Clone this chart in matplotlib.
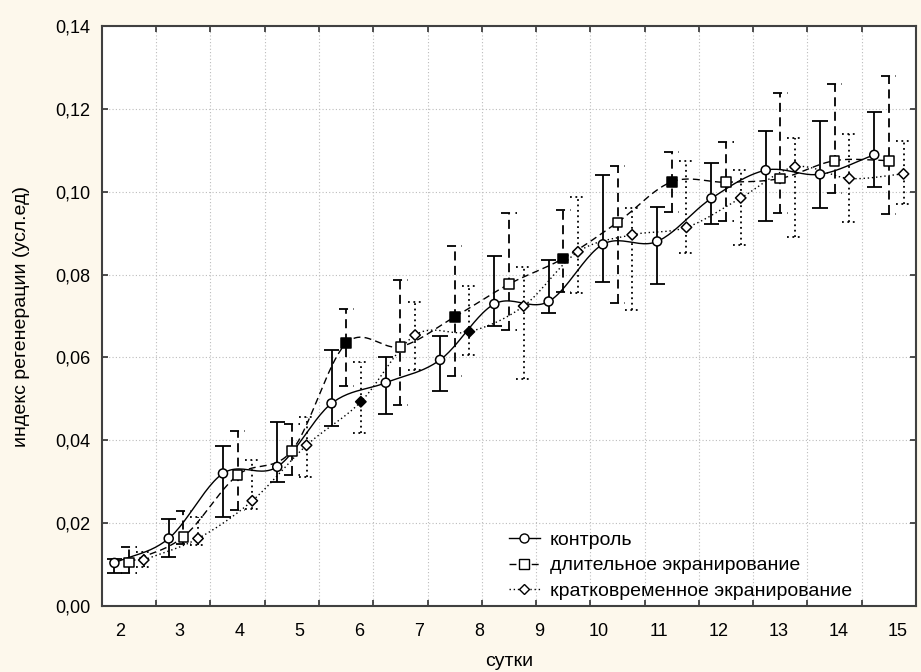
import numpy as np
import matplotlib
matplotlib.use('agg')
import matplotlib.pyplot as plt
from matplotlib.lines import Line2D

# days shown on the x axis
day_labels = ["2", "3", "4", "5", "6", "7", "8", "9", "10", "11", "12", "13", "14", "15"]

# контроль
ctrl_mean = [0.0104, 0.0163, 0.0320, 0.0336, 0.0489, 0.0539, 0.0594, 0.0729,
             0.0735, 0.0873, 0.0880, 0.0984, 0.1052, 0.1042, 0.1089]
ctrl_hi = [0.0113, 0.0209, 0.0387, 0.0443, 0.0618, 0.0602, 0.0652, 0.0845,
           0.0835, 0.1040, 0.0964, 0.1070, 0.1147, 0.1171, 0.1192]
ctrl_lo = [0.0080, 0.0118, 0.0216, 0.0300, 0.0435, 0.0463, 0.0519, 0.0677,
           0.0707, 0.0782, 0.0777, 0.0922, 0.0929, 0.0961, 0.1011]

# длительное экранирование
long_mean = [0.0105, 0.0167, 0.0316, 0.0375, 0.0634, 0.0626, 0.0698, 0.0777,
             0.0839, 0.0926, 0.1024, 0.1023, 0.1032, 0.1075, 0.1075]
long_hi = [0.0143, 0.0230, 0.0423, 0.0439, 0.0716, 0.0787, 0.0869, 0.0948,
           0.0956, 0.1061, 0.1097, 0.1121, 0.1238, 0.1260, 0.1280]
long_lo = [0.0080, 0.0150, 0.0232, 0.0316, 0.0531, 0.0485, 0.0554, 0.0666,
           0.0759, 0.0731, 0.0950, 0.0930, 0.0949, 0.0996, 0.0946]
long_filled = [0, 0, 0, 0, 1, 0, 1, 0, 1, 0, 1, 0, 0, 0, 0]

# кратковременное экранирование
short_mean = [0.0111, 0.0163, 0.0254, 0.0388, 0.0493, 0.0654, 0.0662, 0.0724,
              0.0855, 0.0896, 0.0914, 0.0985, 0.1060, 0.1032, 0.1043]
short_hi = [0.0131, 0.0216, 0.0352, 0.0457, 0.0590, 0.0735, 0.0773, 0.0819,
            0.0988, 0.0960, 0.1073, 0.1052, 0.1129, 0.1139, 0.1123]
short_lo = [0.0095, 0.0147, 0.0233, 0.0312, 0.0417, 0.0570, 0.0606, 0.0549,
            0.0755, 0.0715, 0.0851, 0.0871, 0.0891, 0.0928, 0.0970]
short_filled = [0, 0, 0, 0, 1, 0, 1, 0, 0, 0, 0, 0, 0, 0, 0]

labels = ["контроль", "длительное экранирование", "кратковременное экранирование"]


def smooth(x, y, n=24):
    # catmull-rom through the means
    x = np.asarray(x, float)
    y = np.asarray(y, float)
    yp = np.concatenate([[2 * y[0] - y[1]], y, [2 * y[-1] - y[-2]]])
    t = np.linspace(0, 1, n, endpoint=False)
    xs, ys = [], []
    for i in range(len(y) - 1):
        p0, p1, p2, p3 = yp[i:i + 4]
        yy = 0.5 * (2 * p1 + (-p0 + p2) * t + (2 * p0 - 5 * p1 + 4 * p2 - p3) * t ** 2
                    + (-p0 + 3 * p1 - 3 * p2 + p3) * t ** 3)
        xs.append(x[i] + (x[i + 1] - x[i]) * t)
        ys.append(yy)
    xs.append([x[-1]])
    ys.append([y[-1]])
    return np.concatenate(xs), np.concatenate(ys)


plt.rcParams['font.family'] = ['Liberation Sans', 'DejaVu Sans']
plt.rcParams['font.size'] = 13

fig = plt.figure(figsize=(9.21, 6.72), dpi=100, facecolor='#fdf8ec')
ax = fig.add_axes([0.1107, 0.0982, 0.8839, 0.8631])
ax.set_facecolor('white')

idx = np.arange(len(ctrl_mean))
series = [
    (idx + 0.23, ctrl_mean, ctrl_lo, ctrl_hi, None, 'o', 6.5, '-', '-'),
    (idx + 0.50, long_mean, long_lo, long_hi, long_filled, 's', 7, (0, (5, 3)), (0, (5, 3))),
    (idx + 0.77, short_mean, short_lo, short_hi, short_filled, 'D', 5.3, (0, (1, 2)), (0, (1, 2))),
]

cap = 0.14
for x, m, lo, hi, filled, mk, ms, ls, els in series:
    sx, sy = smooth(x, m)
    ax.plot(sx, sy, color='black', lw=1, ls=ls, zorder=3)
    ax.vlines(x, lo, hi, color='black', lw=1.3, linestyles=els, zorder=2)
    ax.hlines(lo, x - cap, x + cap, color='black', lw=1.3, linestyles=els, zorder=2)
    ax.hlines(hi, x - cap, x + cap, color='black', lw=1.3, linestyles=els, zorder=2)
    fc = ['black' if (filled is not None and f) else 'white' for f in (filled or [0] * len(m))]
    ax.scatter(x, m, marker=mk, s=ms ** 2, facecolors=fc, edgecolors='black',
               linewidths=1.1, zorder=4)

ax.set_xlim(0, 15)
ax.set_ylim(0, 0.14)
ax.set_xticks(np.arange(1, 15))
ax.set_xticklabels([])
ax.set_xticks(np.linspace(0.33, 14.67, len(day_labels)), minor=True)
ax.set_xticklabels(day_labels, minor=True)
ax.tick_params(axis='x', which='minor', length=0, pad=12)
yt = np.arange(0, 0.141, 0.02)
ax.set_yticks(yt)
ax.set_yticklabels([('%.2f' % v).replace('.', ',') for v in yt])
ax.tick_params(axis='both', which='major', direction='in', length=4, width=1.2,
               top=True, right=True, color='#303030')
ax.tick_params(axis='y', pad=8.5)
ax.grid(True, which='major', color='#bcbcbc', lw=0.8, ls=(0, (1, 2)))
ax.set_axisbelow(True)
for s in ax.spines.values():
    s.set_color('#404040')
    s.set_linewidth(1.5)

ax.set_ylabel("индекс регенерации (усл.ед)", fontsize=14)
ax.yaxis.set_label_coords(-0.088, 0.5)
ax.text(0.5, -0.096, "сутки", transform=ax.transAxes, ha='center', va='center',
        fontsize=14)

handles = [
    Line2D([], [], color='black', lw=1, ls='-', marker='o', ms=6.5, mfc='white', mec='black'),
    Line2D([], [], color='black', lw=1, ls=(0, (5, 3)), marker='s', ms=7, mfc='white', mec='black'),
    Line2D([], [], color='black', lw=1, ls=(0, (1, 2)), marker='D', ms=5.3, mfc='white', mec='black'),
]
ax.legend(handles, labels, loc='lower left', bbox_to_anchor=(0.488, -0.006), frameon=False,
          borderpad=0, handlelength=1.6, handletextpad=0.5, labelspacing=0.4, fontsize=14)

fig.savefig('out.png', dpi=100, facecolor=fig.get_facecolor())
